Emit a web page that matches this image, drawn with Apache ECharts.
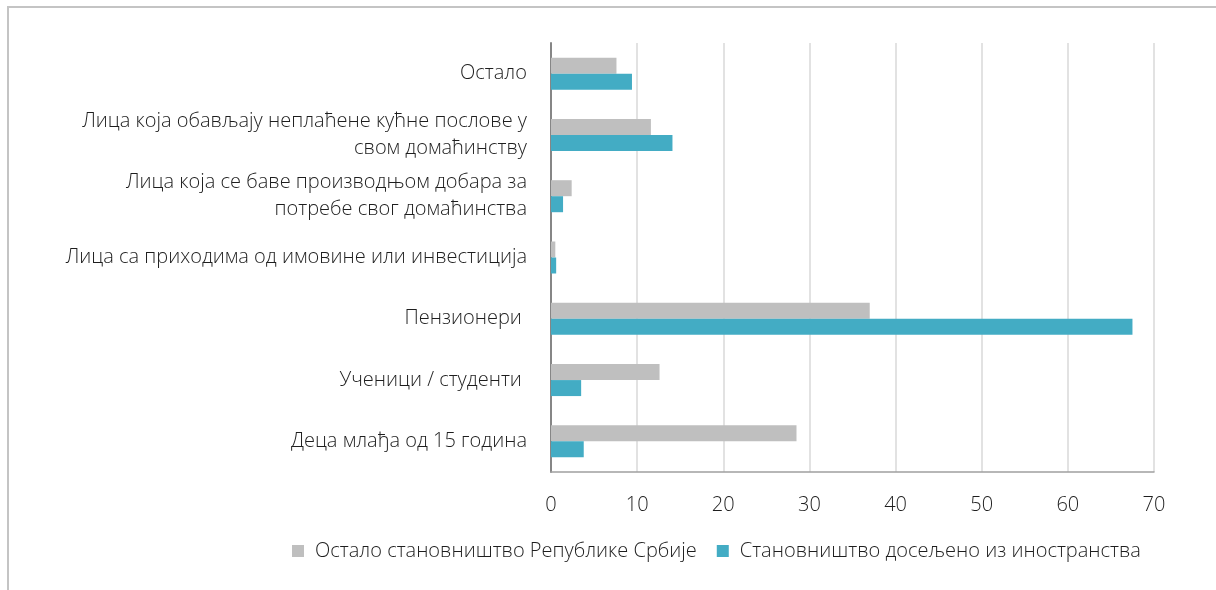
<!DOCTYPE html>
<html>
<head>
<meta charset="utf-8">
<script src="https://cdn.jsdelivr.net/npm/echarts@6/dist/echarts.min.js"></script>
<style>
  html, body { margin: 0; padding: 0; background: #fff; }
  #chart { width: 1216px; height: 590px; }
</style>
</head>
<body>
<div id="chart"></div>
<script>
// categories listed bottom to top, as the y axis draws them
const categories = [
  'Деца млађа од 15 година',
  'Ученици / студенти ',
  'Пензионери ',
  'Лица са приходима од имовине или инвестиција',
  'Лица која се баве производњом добара за\nпотребе свог домаћинства',
  'Лица која обављају неплаћене кућне послове у\nсвом домаћинству',
  'Остало'
];
const seriesNames = ['Остало становништво Републике Србије', 'Становништво досељено из иностранства'];
const restOfSerbia = [28.5, 12.6, 37.0, 0.5, 2.4, 11.6, 7.6];
const fromAbroad = [3.8, 3.5, 67.5, 0.6, 1.4, 14.1, 9.4];
const xTicks = { min: 0, max: 70, interval: 10 };

const font = '"Open Sans", "Noto Sans", sans-serif';
const textColor = '#1e1e1e';
const chart = echarts.init(document.getElementById('chart'));

const option = {
  animation: false,
  textStyle: { fontFamily: font },
  grid: { left: 551, right: 62, top: 43, bottom: 118 },
  // frame of the cropped chart area (top + left edges only)
  graphic: [
    { type: 'line', shape: { x1: 8, y1: 7, x2: 1216, y2: 7 }, style: { stroke: '#c4c4c4', lineWidth: 2 } },
    { type: 'line', shape: { x1: 8, y1: 6, x2: 8, y2: 590 }, style: { stroke: '#c4c4c4', lineWidth: 2 } }
  ],
  legend: {
    top: 536,
    left: 287,
    itemWidth: 12,
    itemHeight: 12,
    itemGap: 20,
    icon: 'rect',
    textStyle: { fontSize: 20, color: textColor, fontFamily: font, fontWeight: 300, padding: [0, 0, 0, 6] },
    data: seriesNames
  },
  xAxis: {
    type: 'value',
    min: xTicks.min,
    max: xTicks.max,
    interval: xTicks.interval,
    axisLine: { show: true, lineStyle: { color: '#a0a0a0', width: 1.5 } },
    axisTick: { show: false },
    axisLabel: { margin: 23, fontSize: 20, color: textColor, fontWeight: 300 },
    splitLine: { show: true, lineStyle: { color: '#d9d9d9', width: 1.5 } }
  },
  yAxis: {
    type: 'category',
    data: categories,
    axisLine: { show: true, lineStyle: { color: '#868686', width: 2 } },
    axisTick: { show: false },
    axisLabel: { margin: 24, fontSize: 20, color: textColor, fontWeight: 300, align: 'right', lineHeight: 27 }
  },
  series: [
    {
      name: seriesNames[0],
      type: 'bar',
      data: restOfSerbia,
      barWidth: 16,
      barGap: '0%',
      itemStyle: { color: '#bfbfbf' },
      z: 2
    },
    {
      name: seriesNames[1],
      type: 'bar',
      data: fromAbroad,
      barWidth: 16,
      barGap: '0%',
      itemStyle: { color: '#43acc4' },
      z: 2
    }
  ]
};

chart.setOption(option);
</script>
</body>
</html>
